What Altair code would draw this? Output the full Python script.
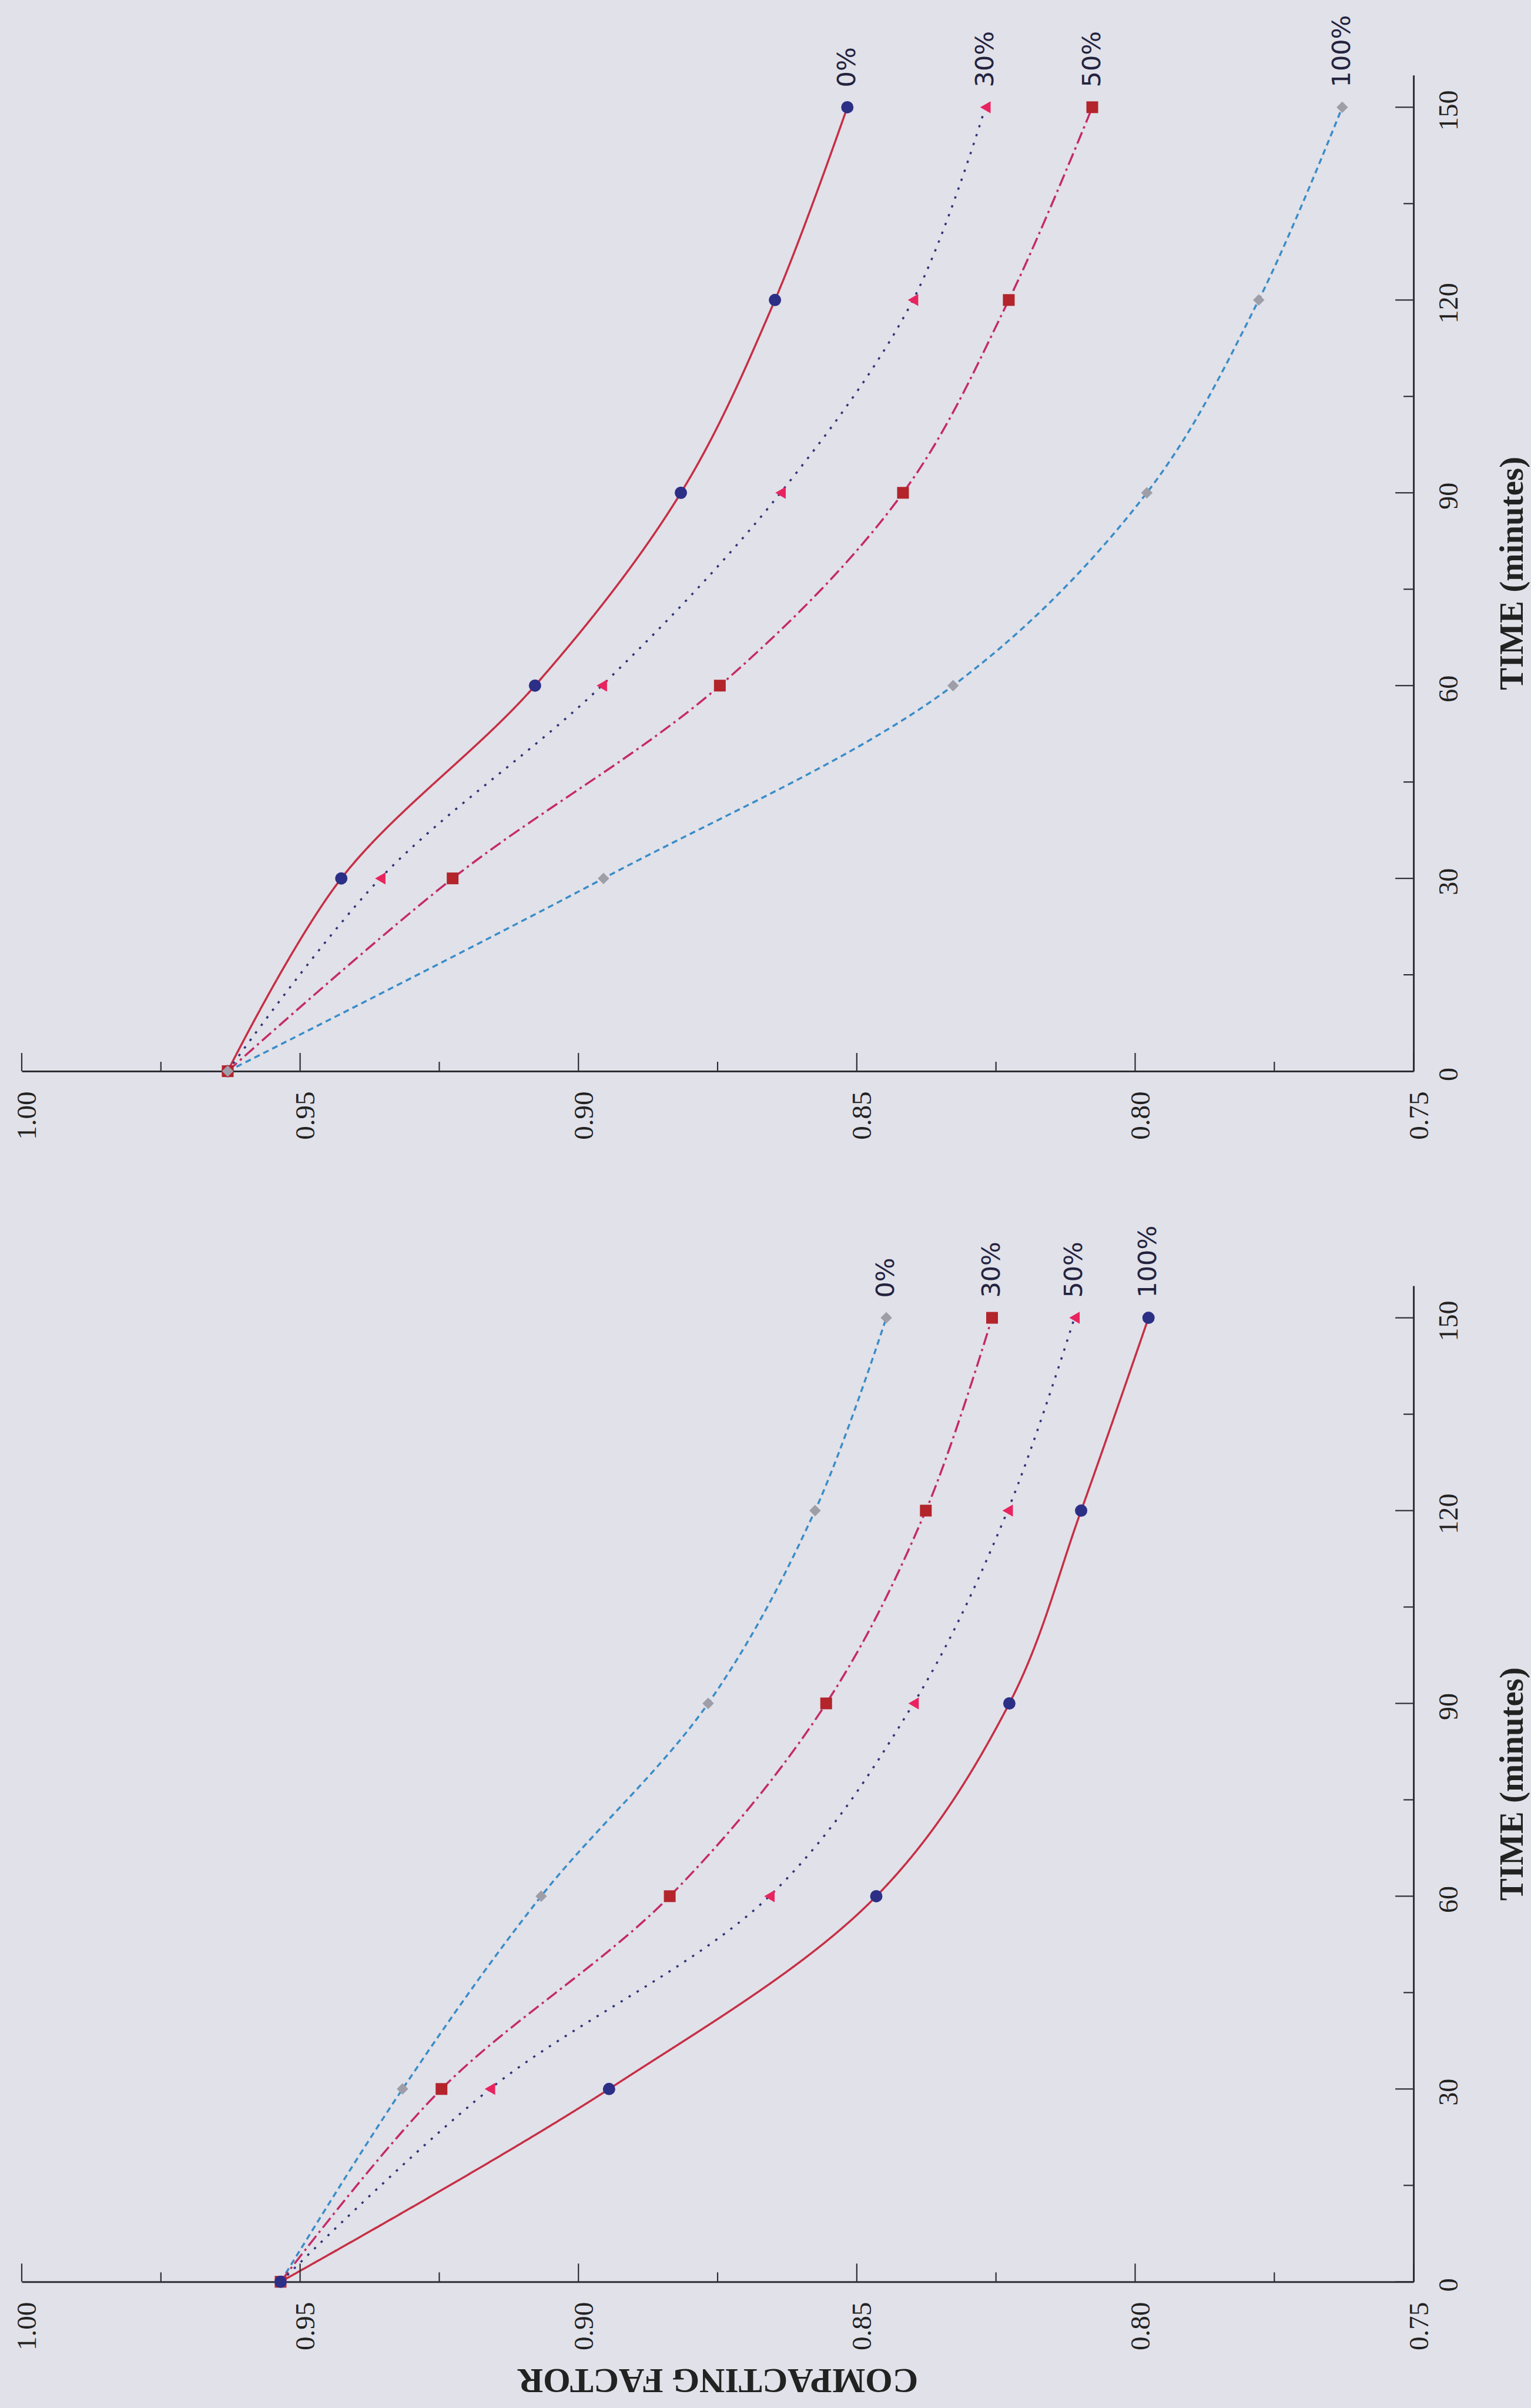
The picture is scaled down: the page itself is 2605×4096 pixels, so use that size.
import altair as alt
import pandas as pd

# ---------------- data ----------------
times = [0, 30, 60, 90, 120, 150]
series_labels = ["0%", "30%", "50%", "100%"]

# upper chart
top_styles = ["solid", "dotted", "dashdot", "dashed"]
top_0 = [0.963, 0.9426, 0.9078, 0.8816, 0.8647, 0.8517]
top_30 = [0.963, 0.9356, 0.8958, 0.8637, 0.8399, 0.8269]
top_50 = [0.963, 0.9226, 0.8746, 0.8417, 0.8227, 0.8077]
top_100 = [0.963, 0.8955, 0.8327, 0.7979, 0.7778, 0.7628]

# lower chart
bot_styles = ["dashed", "dashdot", "dotted", "solid"]
bot_0 = [0.9535, 0.9316, 0.9067, 0.8767, 0.8575, 0.8447]
bot_30 = [0.9535, 0.9246, 0.8836, 0.8555, 0.8376, 0.8257]
bot_50 = [0.9535, 0.9159, 0.8657, 0.8398, 0.8229, 0.8109]
bot_100 = [0.9535, 0.8945, 0.8465, 0.8226, 0.8097, 0.7976]

cf_major = [1.00, 0.95, 0.90, 0.85, 0.80, 0.75]
cf_minor = [0.975, 0.925, 0.875, 0.825, 0.775]
t_major = [0, 30, 60, 90, 120, 150]
t_minor = [15, 45, 75, 105, 135]

# ---------------- styles ----------------
style_names = ["solid", "dotted", "dashdot", "dashed"]
line_colors = ["#c62f45", "#2f3478", "#c42b66", "#3a8dc8"]
dashes = [[1, 0], [4, 12], [21, 7, 4, 7], [10, 7]]
marker_shapes = ["circle", "triangle-left", "square", "diamond"]
marker_colors = ["#2b2f86", "#e8245f", "#b3242b", "#9e9ea8"]
marker_sizes = [440, 380, 560, 380]

W, H = 2369, 1695
AX = "#2d2d33"
BG = "#e1e1e9"
SERIF = "Liberation Serif"

xscale = alt.Scale(domain=[0.75, 1.0], reverse=True, nice=False, zero=False)
yscale = alt.Scale(domain=[0, 155], nice=False, zero=False)


def make_panel(value_lists, styles, with_title):
    rows = []
    for lab, sty, vals in zip(series_labels, styles, value_lists):
        for t, v in zip(times, vals):
            rows.append({"series": lab, "style": sty, "t": t, "cf": v})
    df = pd.DataFrame(rows)

    xaxis_kw = dict(
        values=cf_major, format=".2f", labelAngle=270, labelAlign="right",
        labelBaseline="middle", labelPadding=34, labelOffset=10, ticks=False,
        tickSize=0, domainColor=AX, domainWidth=3, labelFont=SERIF,
        labelFontSize=47, labelColor="#222222", labelFlush=False,
        labelOverlap=False, grid=False,
    )
    if with_title:
        xaxis_kw.update(
            title="COMPACTING FACTOR", titleAngle=180, titleY=148,
            titleBaseline="alphabetic", titleAlign="center", titleFont=SERIF,
            titleFontWeight="bold", titleFontSize=60, titleColor="#222222",
        )
    else:
        xaxis_kw.update(title=None)
    xaxis = alt.Axis(**xaxis_kw)

    yaxis = alt.Axis(
        orient="right", values=t_major, labelAngle=270, labelAlign="center",
        labelBaseline="top", labelPadding=38, labelOffset=5, ticks=False,
        tickSize=0, domainColor=AX, domainWidth=3, labelFont=SERIF,
        labelFontSize=46, labelColor="#222222", labelFlush=False,
        labelOverlap=False, grid=False, title="TIME (minutes)", titleAngle=270,
        titleX=185, titleBaseline="alphabetic", titleAlign="center",
        titleFont=SERIF, titleFontWeight="bold", titleFontSize=57,
        titleColor="#222222",
    )

    X = alt.X("cf:Q", scale=xscale, axis=xaxis)
    Y = alt.Y("t:Q", scale=yscale, axis=yaxis)

    base = alt.Chart(df)
    lines = base.mark_line(interpolate="catmull-rom", strokeWidth=3.5).encode(
        x=X, y=Y,
        stroke=alt.Stroke("style:N", scale=alt.Scale(domain=style_names, range=line_colors), legend=None),
        strokeDash=alt.StrokeDash("style:N", scale=alt.Scale(domain=style_names, range=dashes), legend=None),
        detail="series:N",
        order="t:Q",
    )
    points = base.mark_point(filled=True, opacity=1, strokeWidth=0).encode(
        x=X, y=Y,
        fill=alt.Fill("style:N", scale=alt.Scale(domain=style_names, range=marker_colors), legend=None),
        shape=alt.Shape("style:N", scale=alt.Scale(domain=style_names, range=marker_shapes), legend=None),
        size=alt.Size("style:O", scale=alt.Scale(domain=style_names, range=marker_sizes), legend=None),
    )
    ends = df[df["t"] == times[-1]]
    labels = alt.Chart(ends).mark_text(
        angle=270, align="left", baseline="middle", dx=34,
        font="DejaVu Sans", fontSize=43, color="#23233f",
    ).encode(x=X, y=Y, text="series:N")

    def xticks(vals, length):
        return alt.Chart(pd.DataFrame({"cf": vals})).mark_rule(color=AX, strokeWidth=2.2).encode(
            x=X, y=alt.value(H), y2=alt.value(H - length),
        )

    def yticks(vals, length):
        return alt.Chart(pd.DataFrame({"t": vals})).mark_rule(color=AX, strokeWidth=2.2).encode(
            y=Y, x=alt.value(W), x2=alt.value(W - length),
        )

    return alt.layer(
        lines,
        xticks(cf_major, 31), xticks(cf_minor, 16),
        yticks(t_major, 31), yticks(t_minor, 17),
        points, labels,
    ).properties(width=W, height=H)


top = make_panel([top_0, top_30, top_50, top_100], top_styles, False)
bottom = make_panel([bot_0, bot_30, bot_50, bot_100], bot_styles, True)

chart = alt.vconcat(top, bottom, spacing=365, bounds="flush").properties(
    background=BG,
    padding={"left": 22, "top": 24, "right": 4, "bottom": 20},
).configure_view(stroke=None)

chart.save("out.html", embed_options={"renderer": "svg", "actions": False})
